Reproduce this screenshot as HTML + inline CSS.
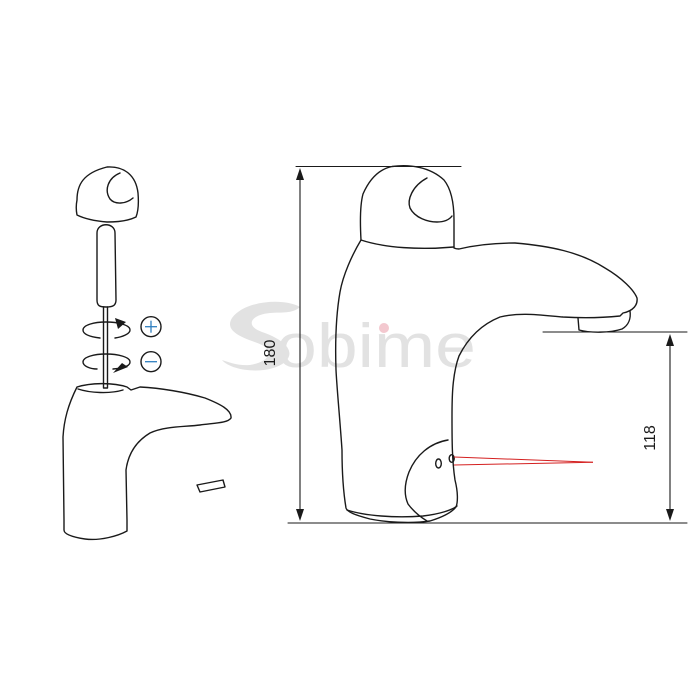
<!DOCTYPE html>
<html><head><meta charset="utf-8"><style>
html,body{margin:0;padding:0;background:#fff;}
svg{display:block;}
</style></head><body>
<svg width="700" height="700" viewBox="0 0 700 700" xmlns="http://www.w3.org/2000/svg">
<rect width="700" height="700" fill="#fff"/>
<!-- watermark -->
<path d="M300,307 C285,298 245,300 232,318 C222,334 252,340 262,345 C275,352 268,362 250,365 C238,366 228,362 222,360 C232,372 270,375 285,362 C298,350 280,338 262,332 C245,326 250,315 270,313 C282,312 292,314 300,307 Z" fill="#e2e2e2"/>
<text x="276" y="367" font-family="Liberation Sans, sans-serif" font-size="62" fill="#e2e2e2" textLength="200" lengthAdjust="spacingAndGlyphs">obime</text>
<circle cx="384" cy="328" r="5" fill="#f3c8cf"/>

<g fill="none" stroke="#1a1a1a" stroke-width="1.4" stroke-linejoin="round" stroke-linecap="round">
<!-- left cap -->
<path d="M77,200 C77,185 83,173 107,167 C125,166 136,176 138,193 C139,205 138,212 136,217 C128,221 118,222 107,222 C95,221 85,219 77,215 C76,210 76,205 77,200 Z"/>
<path d="M120,173 C108,178 104,190 110,199 C115,205 126,204 133,198"/>
<!-- screwdriver -->
<path d="M97,233 C97,222 115,222 115,233 L116,300 C116,306 112,307 106,307 C100,307 97,306 97,300 Z"/>
<path d="M103.5,307 L103.5,388 L107.5,388 L107.5,307"/>
<!-- rotation -->
<path d="M115,338 C122,337 130,334 130,330 C130,325 118,322 106,322 C94,322 83,325 83,330 C83,335 92,337 100,338"/>
<path d="M113,369 C124,368 130,366 130,362 C130,357 118,354 106,354 C94,354 83,357 83,362 C83,366 90,369 97,369"/>
<circle cx="151" cy="326.7" r="10"/>
<circle cx="151" cy="361.7" r="10"/>
<!-- left body -->
<path d="M64,520 L63,437 C64,420 68,405 77,387 C90,383 112,382 127,387 L131,390 L140,387 C160,388 185,392 205,398 C220,404 232,410 231,418 C228,423 215,423 200,425 C185,427 165,426 150,433 C135,442 128,455 126,470 L127,520 L127,531 C118,536 100,541 85,539 C72,537 64,534 64,530 Z"/>
<path d="M78,389 C90,393 110,394 123,390"/>
<path d="M197,485 L223,480 L225,487 L200,492 Z"/>

<!-- main dims -->
<line x1="296" y1="166.5" x2="461" y2="166.5" stroke-width="1.1"/>
<line x1="288" y1="523" x2="687" y2="523" stroke-width="1.1"/>
<line x1="543" y1="332" x2="687" y2="332" stroke-width="1.1"/>
<line x1="300" y1="178" x2="300" y2="510" stroke-width="1.1"/>
<line x1="670" y1="343" x2="670" y2="512" stroke-width="1.1"/>

<!-- main faucet -->
<path d="M361,240 C360,222 360,205 363,194 C370,178 380,169 392,166.5 C410,164 430,167 444,180 C452,190 454,205 454,220 L454,248 C456,249 457,249 459,249 C480,244 500,243 515,243 C550,246 580,252 605,268 C622,278 634,290 637,298 C638,305 633,311 623,313 L620,316 C600,318 580,318 563,317 C540,315 520,312 500,317 C480,325 467,340 459,356 C452,375 452,400 452,417 C452,440 452,460 455,480 C458,492 458,502 456,507 C452,512 443,517 430,521 C410,524 385,522 370,519 C355,515 347,512 346,508 C343,490 342,470 342,450 C340,420 337,390 336,370 C335,340 336,315 340,292 C343,275 352,255 361,240 Z"/>
<path d="M361,240 C385,248 420,250 454,247"/>
<path d="M427,178 C412,186 407,200 410,208 C415,218 428,222 437,222 C444,222 449,220 452,216"/>
<path d="M578,318 L579,330 C590,333 610,333 622,329 C629,325 631,318 630,311"/>
<path d="M448,440 C430,443 416,455 409,472 C404,485 404,495 408,504 C414,512 422,518 427,521"/>
<path d="M347,510 C365,516 395,518 423,516 C440,514 452,510 457,506"/>
<ellipse cx="438.5" cy="463.5" rx="2.8" ry="4.5"/>
<ellipse cx="451.7" cy="458.5" rx="2.5" ry="3.8"/>
</g>
<!-- arrowheads -->
<g fill="#1a1a1a">
<polygon points="300,168 296,180 304,180"/>
<polygon points="300,521 296,509 304,509"/>
<polygon points="670,334 666,346 674,346"/>
<polygon points="670,521 666,509 674,509"/>
<polygon points="115,318 126,322 118,329"/>
<polygon points="113,373 128,367 122,363"/>
</g>
<g stroke="#2f7fc0" stroke-width="1.3">
<line x1="145" y1="326.7" x2="157" y2="326.7"/>
<line x1="151" y1="320.7" x2="151" y2="332.7"/>
<line x1="145" y1="361.7" x2="157" y2="361.7"/>
</g>
<g stroke="#d42020" stroke-width="1" fill="none">
<line x1="454" y1="457" x2="593" y2="462.3"/>
<line x1="454" y1="465" x2="593" y2="462.3"/>
</g>
<text transform="translate(275,353) rotate(-90)" text-anchor="middle" font-family="Liberation Sans, sans-serif" font-size="16" fill="#1a1a1a">180</text>
<text transform="translate(655,438) rotate(-90)" text-anchor="middle" font-family="Liberation Sans, sans-serif" font-size="16" fill="#1a1a1a">118</text>
</svg>
</body></html>
